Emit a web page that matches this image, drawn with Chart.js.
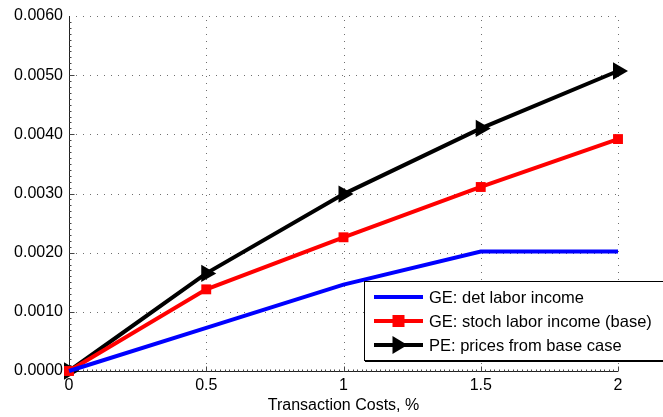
<!DOCTYPE html>
<html>
<head>
<meta charset="utf-8">
<script src="https://cdn.jsdelivr.net/npm/chart.js@4/dist/chart.umd.min.js"></script>
<style>
html,body{margin:0;padding:0;background:#fff;}
#wrap{width:663px;height:417px;}
</style>
</head>
<body>
<div id="wrap"><canvas id="c" width="663" height="417"></canvas></div>
<script>
const xValues = [0, 0.5, 1, 1.5, 2];
const detLabor = [0, 0.00073, 0.00146, 0.00202, 0.00202];
const stochLabor = [0, 0.00138, 0.00226, 0.00311, 0.00392];
const peBase = [0, 0.00165, 0.00299, 0.00410, 0.00507];
const seriesNames = ['GE: det labor income', 'GE: stoch labor income (base)', 'PE: prices from base case'];
const xTitle = 'Transaction Costs, %';

const FONT = 'Liberation Sans, Arial, Helvetica, sans-serif';

function pts(arr){ return xValues.map((x,i)=>({x:x,y:arr[i]})); }

const axesPlugin = {
  id:'matlabAxes',
  beforeDatasetsDraw(chart){
    const ctx = chart.ctx, xs = chart.scales.x, ys = chart.scales.y, a = chart.chartArea;
    ctx.save();
    ctx.strokeStyle = '#6f6f6f';
    ctx.lineWidth = 1;
    ctx.setLineDash([1,6]);
    [0.5,1,1.5,2].forEach(v=>{
      const px = Math.round(xs.getPixelForValue(v))+0.5;
      ctx.beginPath(); ctx.moveTo(px,a.bottom); ctx.lineTo(px,a.top); ctx.stroke();
    });
    [0.001,0.002,0.003,0.004,0.005,0.006].forEach(v=>{
      const py = Math.round(ys.getPixelForValue(v))+0.5;
      ctx.beginPath(); ctx.moveTo(a.left,py); ctx.lineTo(a.right,py); ctx.stroke();
    });
    ctx.setLineDash([]);
    ctx.strokeStyle = '#222';
    const x0 = Math.round(a.left)+0.5, y0 = Math.round(a.bottom)+0.5;
    ctx.beginPath(); ctx.moveTo(x0,a.top); ctx.lineTo(x0,y0); ctx.lineTo(a.right,y0); ctx.stroke();
    ctx.strokeStyle = '#444';
    for(let k=1;k<60;k++){
      const v = k*0.0001;
      const py = Math.round(ys.getPixelForValue(v))+0.5;
      const len = (k%10===0)?5:2;
      ctx.beginPath(); ctx.moveTo(x0,py); ctx.lineTo(x0+len,py); ctx.stroke();
    }
    for(let k=1;k<=120;k++){
      const v = k*(0.5/30);
      if(v>2.0001) break;
      const px = Math.round(xs.getPixelForValue(v))+0.5;
      const len = (k%30===0)?5:2;
      ctx.beginPath(); ctx.moveTo(px,y0); ctx.lineTo(px,y0-len); ctx.stroke();
    }
    ctx.restore();
  },
  afterDraw(chart){
    const ctx = chart.ctx;
    const ds = chart.data.datasets;
    const bx = 364, by = 281, bw = 310, bh = 79;
    ctx.save();
    ctx.fillStyle = '#fff';
    ctx.fillRect(bx,by,bw,bh);
    ctx.strokeStyle = '#000';
    ctx.lineWidth = 1;
    ctx.strokeRect(bx+0.5,by+0.5,bw,bh);
    ctx.lineWidth = 2;
    ctx.beginPath(); ctx.moveTo(bx+1,by+bh+1); ctx.lineTo(bx+bw,by+bh+1); ctx.stroke();
    ctx.font = '16.5px ' + FONT;
    ctx.textBaseline = 'middle';
    const rows = [297, 321, 345];
    ds.forEach((d,i)=>{
      const y = rows[i];
      ctx.strokeStyle = d.borderColor;
      ctx.lineWidth = 4;
      ctx.beginPath(); ctx.moveTo(374,y); ctx.lineTo(423,y); ctx.stroke();
      const cx = 398.5;
      if(i===1){
        ctx.fillStyle = d.backgroundColor;
        ctx.fillRect(cx-6,y-6,12,12);
      } else if(i===2){
        ctx.fillStyle = '#000';
        ctx.beginPath(); ctx.moveTo(cx+9,y); ctx.lineTo(cx-6,y-9); ctx.lineTo(cx-6,y+9); ctx.closePath(); ctx.fill();
      }
      ctx.fillStyle = '#000';
      ctx.fillText(seriesNames[i], 429, y+1);
    });
    ctx.restore();
  }
};

new Chart(document.getElementById('c'), {
  type:'line',
  data:{
    datasets:[
      {label:seriesNames[0], data:pts(detLabor), borderColor:'#0000ff', backgroundColor:'#0000ff', borderWidth:4, pointRadius:0, tension:0},
      {label:seriesNames[1], data:pts(stochLabor), borderColor:'#ff0000', backgroundColor:'#ff0000', borderWidth:4, pointStyle:'rect', pointRadius:7, pointBorderWidth:0, tension:0},
      {label:seriesNames[2], data:pts(peBase), borderColor:'#000000', backgroundColor:'#000000', borderWidth:4, pointStyle:'triangle', pointRotation:90, pointRadius:10, pointBorderWidth:0, tension:0}
    ]
  },
  options:{
    responsive:false,
    animation:false,
    clip:false,
    layout:{padding:{left:0,right:45,top:16,bottom:0}},
    plugins:{legend:{display:false},tooltip:{enabled:false}},
    scales:{
      x:{
        type:'linear', min:0, max:2,
        grid:{display:false, drawTicks:false},
        border:{display:false},
        afterFit(s){ s.height = 46; },
        afterBuildTicks(s){ s.ticks = xValues.map(v=>({value:v})); },
        ticks:{color:'#000', padding:5, font:{family:FONT,size:16}, maxRotation:0, autoSkip:false,
          callback:(v)=>String(v)},
        title:{display:true, text:xTitle, color:'#000', font:{family:FONT,size:16}, padding:{top:0,bottom:2}}
      },
      y:{
        type:'linear', min:0, max:0.006,
        grid:{display:false, drawTicks:false},
        border:{display:false},
        afterFit(s){ s.width = 69; },
        ticks:{color:'#000', padding:6, stepSize:0.001, font:{family:FONT,size:16},
          callback:(v)=>Number(v).toFixed(4)}
      }
    }
  },
  plugins:[axesPlugin]
});
</script>
</body>
</html>
